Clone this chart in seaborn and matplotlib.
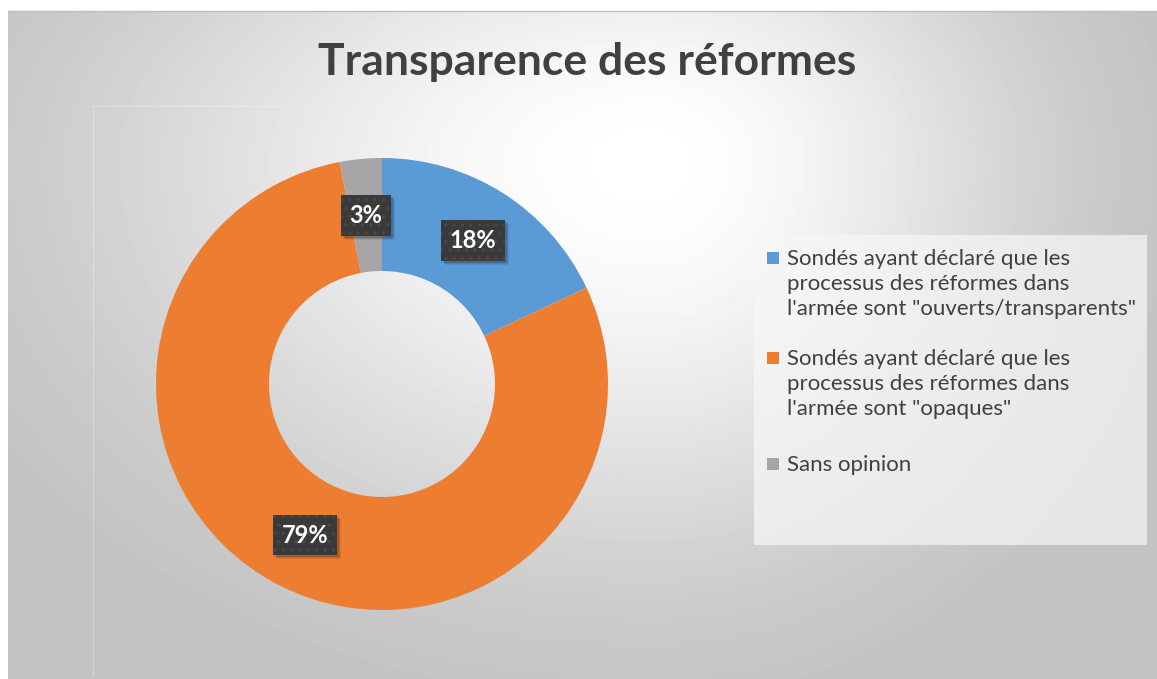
import numpy as np
import matplotlib
matplotlib.use("Agg")
import matplotlib.pyplot as plt
from matplotlib.patches import Rectangle
from matplotlib.lines import Line2D
import seaborn as sns

# Données
categories = [
    'Sondés ayant déclaré que les\nprocessus des réformes dans\nl\'armée sont "ouverts/transparents"',
    'Sondés ayant déclaré que les\nprocessus des réformes dans\nl\'armée sont "opaques"',
    'Sans opinion',
]
values = [18, 79, 3]
colors = sns.color_palette(['#5B9BD5', '#ED7D31', '#A5A5A5'])
title = 'Transparence des réformes'

sns.set_theme(style="white")
plt.rcParams['font.family'] = ['Lato', 'DejaVu Sans']
plt.rcParams['hatch.linewidth'] = 1.2

W, H = 1157, 679
fig = plt.figure(figsize=(W / 100, H / 100), dpi=100)
fig.patch.set_facecolor('white')

# Fond en dégradé (blanc vers le centre-haut, gris sur les bords)
x0, y0 = 8, 11
bg = fig.add_axes([x0 / W, 0, 1 - x0 / W, 1 - y0 / H])
bg.set_axis_off()
yy, xx = np.mgrid[y0:H, x0:W].astype(float)
cx, cy = 650, 160
dx = np.where(xx < cx, (cx - xx) / 780, (xx - cx) / 540)
dy = np.where(yy < cy, (cy - yy) / 420, (yy - cy) / 560)
r = np.sqrt(dx ** 2 + dy ** 2)
t = np.clip(r / 1.05, 0, 1)
t = t * t * (3 - 2 * t)
g = 1 - 0.235 * t
bg.imshow(g, cmap='gray', vmin=0, vmax=1, aspect='auto', interpolation='bilinear')

fig.add_artist(Line2D([x0 / W, 1], [1 - y0 / H] * 2, color='#bebebe', lw=1))
# contour léger de la zone de tracé
fig.add_artist(Line2D([93 / W, 93 / W], [1 - 106 / H, 1 - 675 / H], color='white', alpha=0.3, lw=0.8))
fig.add_artist(Line2D([93 / W, 284 / W], [1 - 106 / H] * 2, color='white', alpha=0.3, lw=0.8))

# Anneau
R = 226
ccx, ccy = 382, 384
ax = fig.add_axes([(ccx - R) / W, (H - ccy - R) / H, 2 * R / W, 2 * R / H])
ax.patch.set_alpha(0)
wedges, texts, autotexts = ax.pie(values, colors=colors, startangle=90, counterclock=False,
                                  radius=1, autopct='%1.0f%%', pctdistance=0.75,
                                  wedgeprops=dict(width=0.5, linewidth=0))
ax.set_xlim(-1, 1)
ax.set_ylim(-1, 1)

for at in autotexts:
    at.set_color('white')
    at.set_fontweight('bold')
    at.set_fontsize(17)
    at.set_zorder(5)
    at.set_bbox(dict(boxstyle='square,pad=0.38', facecolor='#3a3a3a', edgecolor='#474747',
                     hatch='..', linewidth=0))

# ombre douce sous les étiquettes (calculée d'après la boîte rendue)
fig.canvas.draw()
for at in autotexts:
    bb = at.get_bbox_patch().get_window_extent()
    for off, a in [(4, 0.08), (3, 0.10), (2, 0.14)]:
        fig.add_artist(Rectangle(((bb.x0 + off) / W, (bb.y0 - off) / H), bb.width / W,
                                 bb.height / H, transform=fig.transFigure,
                                 facecolor='black', alpha=a, linewidth=0, zorder=4))
    at.remove()
    fig.add_artist(at)
    at.set_zorder(6)

# Titre
fig.text(587 / W, 1 - 62 / H, title, ha='center', va='center', fontsize=32,
         fontweight='bold', color='#404040')

# Légende
fig.add_artist(Rectangle((754 / W, 1 - 545 / H), (1147 - 754) / W, (545 - 235) / H,
                         transform=fig.transFigure, facecolor='#f7f7f7', alpha=0.7,
                         edgecolor='none'))
first_lines = [258, 358, 464]
for lab, col, yl in zip(categories, colors, first_lines):
    fig.add_artist(Rectangle((767 / W, 1 - (yl + 6) / H), 12 / W, 12 / H,
                             transform=fig.transFigure, facecolor=col, edgecolor='none'))
    fig.text(787 / W, 1 - (yl - 9) / H, lab, ha='left', va='top', fontsize=16,
             color='#404040', linespacing=1.32)

fig.savefig('out.png', dpi=100)
